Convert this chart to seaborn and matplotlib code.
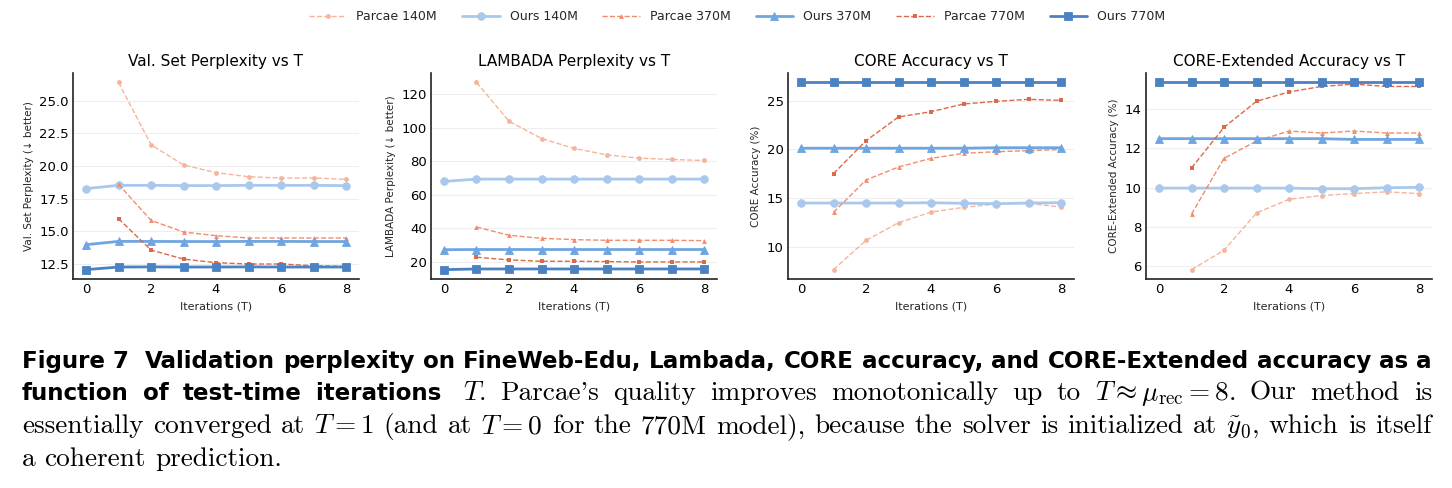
import numpy as np
import pandas as pd
import seaborn as sns
import matplotlib
matplotlib.use("Agg")
import matplotlib.pyplot as plt

# Werte
t_ours = [0, 1, 2, 3, 4, 5, 6, 7, 8]
t_parcae = [1, 2, 3, 4, 5, 6, 7, 8]

series_names = ["Parcae 140M", "Ours 140M", "Parcae 370M", "Ours 370M", "Parcae 770M", "Ours 770M"]

# Val. Set Perplexity
val_parcae_140 = [26.40, 21.63, 20.08, 19.49, 19.18, 19.08, 19.08, 18.98]
val_ours_140 = [18.27, 18.52, 18.52, 18.50, 18.50, 18.52, 18.52, 18.52, 18.50]
val_parcae_370 = [18.60, 15.84, 14.95, 14.67, 14.49, 14.49, 14.49, 14.49]
val_ours_370 = [13.98, 14.23, 14.23, 14.22, 14.22, 14.23, 14.23, 14.22, 14.22]
val_parcae_770 = [15.97, 13.57, 12.88, 12.60, 12.50, 12.50, 12.37, 12.32]
val_ours_770 = [12.07, 12.27, 12.28, 12.27, 12.27, 12.28, 12.27, 12.27, 12.27]

# LAMBADA Perplexity
lam_parcae_140 = [127.1, 103.9, 93.6, 87.7, 83.9, 81.9, 81.1, 80.5]
lam_ours_140 = [68.0, 69.4, 69.4, 69.4, 69.4, 69.4, 69.4, 69.4, 69.4]
lam_parcae_370 = [40.8, 35.9, 34.1, 33.3, 32.9, 32.9, 32.9, 32.7]
lam_ours_370 = [27.3, 27.4, 27.4, 27.4, 27.4, 27.4, 27.4, 27.4, 27.4]
lam_parcae_770 = [22.8, 21.2, 20.4, 20.4, 20.2, 20.0, 20.0, 20.0]
lam_ours_770 = [15.4, 15.8, 15.8, 15.8, 15.8, 15.8, 15.8, 15.8, 15.8]

# CORE Accuracy
core_parcae_140 = [7.68, 10.68, 12.49, 13.58, 14.06, 14.40, 14.47, 14.10]
core_ours_140 = [14.51, 14.51, 14.51, 14.51, 14.54, 14.48, 14.44, 14.51, 14.54]
core_parcae_370 = [13.55, 16.87, 18.20, 19.09, 19.60, 19.77, 19.88, 20.00]
core_ours_370 = [20.13, 20.13, 20.13, 20.13, 20.13, 20.13, 20.18, 20.18, 20.18]
core_parcae_770 = [17.52, 20.90, 23.33, 23.87, 24.66, 24.93, 25.14, 25.03]
core_ours_770 = [26.88, 26.88, 26.88, 26.88, 26.88, 26.88, 26.88, 26.88, 26.88]

# CORE-Extended Accuracy
ext_parcae_140 = [5.80, 6.79, 8.70, 9.40, 9.59, 9.69, 9.78, 9.69]
ext_ours_140 = [9.97, 9.97, 9.97, 9.97, 9.97, 9.94, 9.94, 9.99, 10.01]
ext_parcae_370 = [8.64, 11.49, 12.38, 12.89, 12.79, 12.89, 12.79, 12.79]
ext_ours_370 = [12.50, 12.50, 12.50, 12.50, 12.50, 12.50, 12.46, 12.46, 12.46]
ext_parcae_770 = [11.00, 13.08, 14.41, 14.89, 15.17, 15.29, 15.17, 15.17]
ext_ours_770 = [15.38, 15.38, 15.38, 15.38, 15.38, 15.38, 15.38, 15.38, 15.38]

panel_titles = ["Val. Set Perplexity vs T", "LAMBADA Perplexity vs T",
                "CORE Accuracy vs T", "CORE-Extended Accuracy vs T"]
panel_ylabels = ["Val. Set Perplexity (\u2193 better)", "LAMBADA Perplexity (\u2193 better)",
                 "CORE Accuracy (%)", "CORE-Extended Accuracy (%)"]

panels = [
    [val_parcae_140, val_ours_140, val_parcae_370, val_ours_370, val_parcae_770, val_ours_770],
    [lam_parcae_140, lam_ours_140, lam_parcae_370, lam_ours_370, lam_parcae_770, lam_ours_770],
    [core_parcae_140, core_ours_140, core_parcae_370, core_ours_370, core_parcae_770, core_ours_770],
    [ext_parcae_140, ext_ours_140, ext_parcae_370, ext_ours_370, ext_parcae_770, ext_ours_770],
]

# Bildunterschrift: (Wort, Stil) je Zeile, 'b' = fett serifenlos, 'r' = Serifenschrift
caption_lines = [
    [("Figure 7 ", "b"), ("Validation", "b"), ("perplexity", "b"), ("on", "b"), ("FineWeb-Edu,", "b"),
     ("Lambada,", "b"), ("CORE", "b"), ("accuracy,", "b"), ("and", "b"), ("CORE-Extended", "b"),
     ("accuracy", "b"), ("as", "b"), ("a", "b")],
    [("function", "b"), ("of", "b"), ("test-time", "b"), ("iterations ", "b"), ("$T$.", "r"),
     ("Parcae's", "r"), ("quality", "r"), ("improves", "r"), ("monotonically", "r"), ("up", "r"),
     ("to", "r"), (r"$T \approx \mu_{\rm rec} = 8$.", "r"), ("Our", "r"), ("method", "r"), ("is", "r")],
    [("essentially", "r"), ("converged", "r"), ("at", "r"), ("$T = 1$", "r"), ("(and", "r"), ("at", "r"),
     ("$T = 0$", "r"), ("for", "r"), ("the", "r"), ("770M", "r"), ("model),", "r"), ("because", "r"),
     ("the", "r"), ("solver", "r"), ("is", "r"), ("initialized", "r"), ("at", "r"), (r"$\tilde{y}_0$,", "r"),
     ("which", "r"), ("is", "r"), ("itself", "r")],
    [("a", "r"), ("coherent", "r"), ("prediction.", "r")],
]

colors = ["#f7b49b", "#a9c8ec", "#f18d6c", "#6fa5e0", "#d96a4c", "#4a82c3"]
markers = ["o", "o", "^", "^", "s", "s"]

sns.set_style("whitegrid")
plt.rcParams["mathtext.fontset"] = "cm"

W, H = 1452, 488
fig = plt.figure(figsize=(W / 100, H / 100), dpi=100)

lefts = [73, 431, 788, 1146]
axes = []
for i in range(4):
    ax = fig.add_axes([lefts[i] / W, (H - 279) / H, 286 / W, 206 / H])
    axes.append(ax)
    for k, name in enumerate(series_names):
        vals = panels[i][k]
        if name.startswith("Parcae"):
            sns.lineplot(x=t_parcae, y=vals, ax=ax, color=colors[k], marker=markers[k],
                         linestyle="--", linewidth=1.0, markersize=3.5, markeredgewidth=0,
                         label=name)
        else:
            sns.lineplot(x=t_ours, y=vals, ax=ax, color=colors[k], marker=markers[k],
                         linestyle="-", linewidth=2.0, markersize=5.5, markeredgewidth=0.6,
                         markeredgecolor=colors[k], label=name)
    ax.set_title(panel_titles[i], fontsize=11, pad=5, color="black")
    ax.set_xlabel("Iterations (T)", fontsize=8)
    ax.set_ylabel(panel_ylabels[i], fontsize=7.5)
    ax.set_xticks([0, 2, 4, 6, 8])
    ax.tick_params(axis="both", labelsize=9.5, length=0, pad=3, labelcolor="black")
    ax.grid(axis="x", visible=False)
    ax.grid(axis="y", color="#eeeeee", linewidth=0.8)
    sns.despine(ax=ax)
    for s in ["left", "bottom"]:
        ax.spines[s].set_color("#222222")
        ax.spines[s].set_linewidth(1.2)

handles, labels = axes[0].get_legend_handles_labels()
for ax in axes:
    ax.get_legend().remove()
fig.legend(handles, labels, loc="center", bbox_to_anchor=(737 / W, 1 - 17 / H), ncol=6,
           frameon=False, fontsize=9, handlelength=3.0, columnspacing=2.0)

# Bildunterschrift im Blocksatz setzen
renderer = fig.canvas.get_renderer()
cap_left, cap_right = 22, 1432
baselines = [368, 400, 433, 466]
fonts = {"b": dict(family="DejaVu Sans", weight="bold", size=12.0, color="black"),
         "r": dict(family="cmr10", size=12.0, color="black")}


def natural_width(words, style):
    probe = fig.text(0, 0, " ".join(w for w, _ in words), fontdict=fonts[style])
    wdt = probe.get_window_extent(renderer).width
    probe.remove()
    return wdt


# Schriftgrößen so wählen, dass Zeile 1 (fett) und Zeile 3 (Serif) die Breite füllen
fonts["b"]["size"] *= (cap_right - cap_left) / natural_width(caption_lines[0], "b")
fonts["r"]["size"] *= (cap_right - cap_left) / natural_width(caption_lines[2], "r")

for li, words in enumerate(caption_lines):
    texts = []
    for w, st in words:
        t = fig.text(0, 0, w, fontdict=fonts[st], va="baseline", ha="left")
        texts.append(t)
    widths = [t.get_window_extent(renderer).width for t in texts]
    if li < len(caption_lines) - 1:
        gap = (cap_right - cap_left - sum(widths)) / (len(texts) - 1)
    else:
        gap = fonts["r"]["size"] * 100 / 72 * 0.33
    x = cap_left
    for t, wdt in zip(texts, widths):
        t.set_position((x / W, 1 - baselines[li] / H))
        x += wdt + gap

fig.savefig("out.png", dpi=100)
